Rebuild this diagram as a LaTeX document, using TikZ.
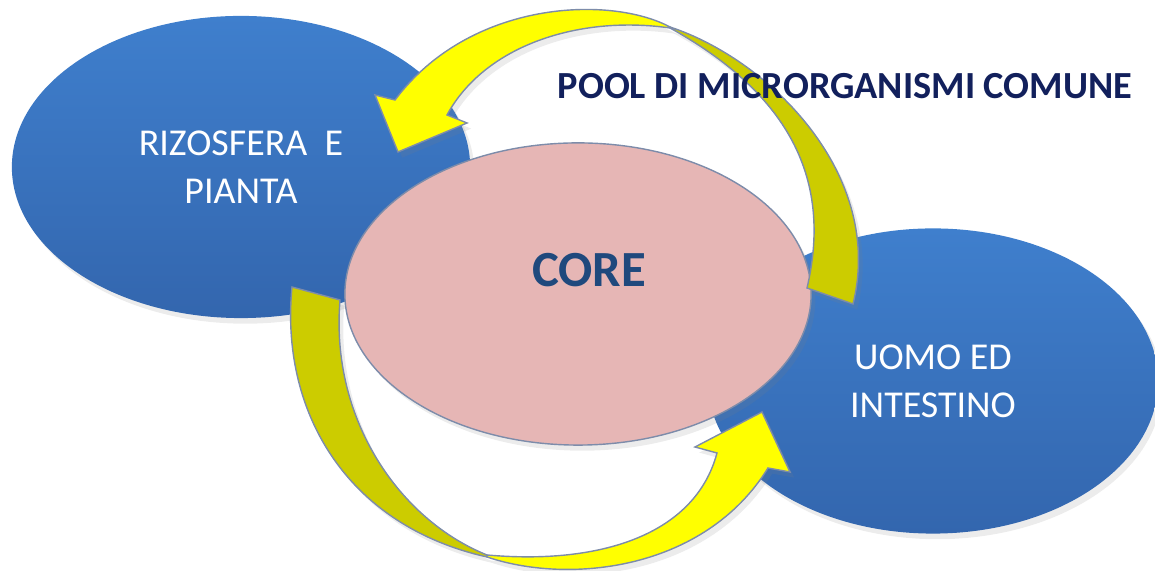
\documentclass[tikz,border=0pt]{standalone}
\usepackage{fontspec}
\setmainfont{Carlito}
\usetikzlibrary{shapes.geometric,shadows}

\definecolor{bluetop}{HTML}{3F7FCD}
\definecolor{bluebot}{HTML}{3366AE}
\definecolor{rosa}{HTML}{E6B6B5}
\definecolor{giallo}{HTML}{FFFF00}
\definecolor{oliva}{HTML}{CCCC00}
\definecolor{bordo}{HTML}{7D8CAA}
\definecolor{testocore}{HTML}{1F497D}
\definecolor{testopool}{HTML}{12205C}

\tikzset{
  ombra/.style={drop shadow={shadow xshift=1.2pt, shadow yshift=-1.6pt, opacity=0.15}},
  habitat/.style={ellipse, inner sep=0pt, top color=bluetop, bottom color=bluebot,
    text=white, align=center, font=\fontsize{10.8}{13.7}\selectfont, ombra},
  nucleo/.style={ellipse, inner sep=0pt, fill=rosa, draw=bordo, line width=0.4pt, ombra},
  retro/.style={fill=oliva, draw=bordo, line width=0.4pt, ombra},
  fronte/.style={fill=giallo, draw=bordo, line width=0.4pt, ombra},
}

\begin{document}
\begin{tikzpicture}[x=0.01cm, y=-0.01cm]

  \useasboundingbox (0,0) rectangle (1155,571);

  % --- ambienti ---
  \node[habitat, minimum width=4.58cm, minimum height=3.02cm] (rizosfera) at (241,167)
    {RIZOSFERA\ \ E\\PIANTA};
  \node[habitat, minimum width=4.50cm, minimum height=3.05cm] (uomo) at (933,381)
    {UOMO ED\\INTESTINO};

  % --- core ---
  \node[nucleo, minimum width=4.66cm, minimum height=3.02cm] (core) at (578,294) {};
  \node[font=\bfseries\fontsize{14.4}{17}\selectfont, text=testocore] (corelbl) at (589,270) {CORE};

  % --- freccia superiore: parte dietro ---
  \filldraw[retro] (853,304) .. controls (885,175) and (770,60) .. (670,27)
    -- (670,28) .. controls (800,100) and (830,190) .. (807,288) -- cycle;

  % --- freccia superiore: parte davanti e punta ---
  \filldraw[fronte] (670,27) .. controls (610,-5) and (470,0) .. (395,100)
    -- (375,95) -- (398,152) -- (467,123) -- (447,115)
    .. controls (485,45) and (580,15) .. (670,28) -- cycle;

  % --- freccia inferiore: parte dietro ---
  \filldraw[retro] (292,287) .. controls (280,410) and (345,525) .. (487,557)
    -- (487,555) .. controls (400,520) and (330,420) .. (340,300) -- cycle;

  % --- freccia inferiore: parte davanti e punta ---
  \filldraw[fronte] (487,557) .. controls (570,585) and (705,570) .. (768,468)
    -- (790,472) -- (762,412) -- (695,447) -- (717,453)
    .. controls (695,535) and (600,565) .. (487,555) -- cycle;

  % --- titolo ---
  \node[font=\bfseries\fontsize{10.9}{13}\selectfont, text=testopool] (pool) at (845,86)
    {POOL DI MICRORGANISMI COMUNE};

\end{tikzpicture}
\end{document}
